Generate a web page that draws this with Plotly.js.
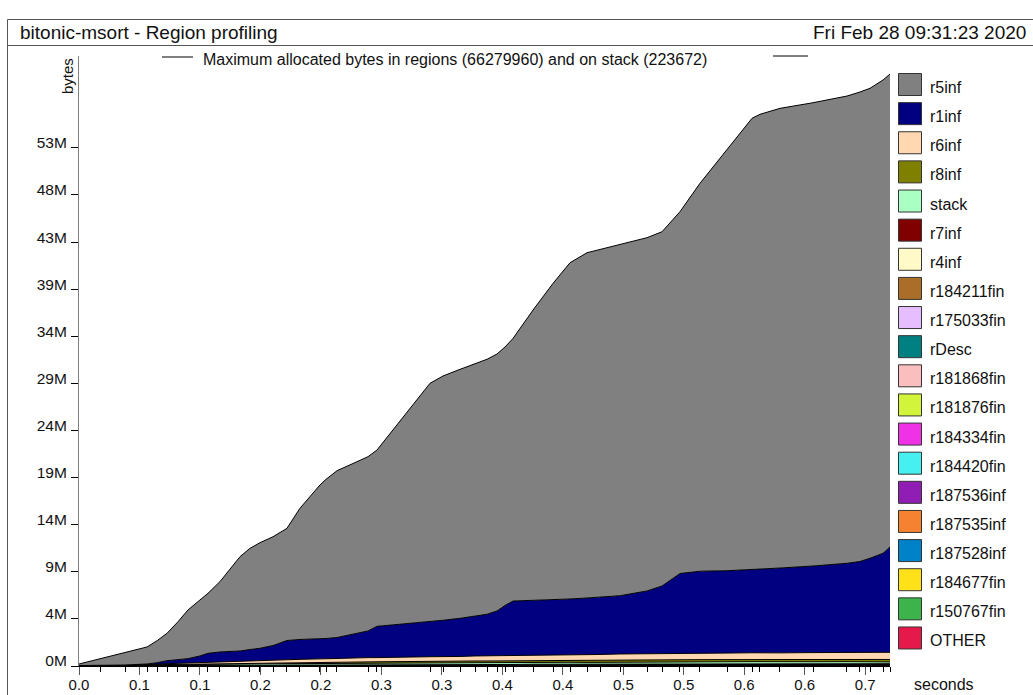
<!DOCTYPE html>
<html><head><meta charset="utf-8">
<script src="https://cdn.plot.ly/plotly-3.0.1.min.js"></script>
<style>html,body{margin:0;padding:0;background:#fff;} #chart{width:1033px;height:695px;}</style>
</head><body><div id="chart"></div>
<script>
// sample times (seconds)
const times = [0.0000,0.0181,0.0396,0.0585,0.0671,0.0757,0.0851,0.0937,0.1040,0.1109,
  0.1212,0.1384,0.1470,0.1556,0.1668,0.1788,0.1900,0.2072,0.2124,0.2218,
  0.2485,0.2562,0.3018,0.3130,0.3276,0.3405,0.3508,0.3594,0.3663,0.3732,
  0.3904,0.4076,0.4222,0.4368,0.4480,0.4652,0.4884,0.5013,0.5167,0.5339,
  0.5572,0.5787,0.5855,0.6027,0.6311,0.6603,0.6715,0.6801,0.6913,0.6973];

// values in M
const r5inf = [0.155,0.673,1.295,1.761,2.279,2.839,3.936,5.046,5.802,6.216,
  7.283,9.769,10.485,10.940,11.271,11.624,13.593,15.955,16.493,17.280,
  18.057,18.265,24.730,25.309,25.796,26.190,26.418,26.625,26.780,27.216,
  30.096,32.790,34.841,35.773,36.021,36.405,36.602,36.705,37.483,40.187,
  43.585,46.776,47.138,47.625,47.998,48.412,48.640,48.692,49.034,49.003];
const r1inf = [0.02,0.01,0.01,0.07,0.16,0.31,0.37,0.44,0.66,0.90,
  0.99,1.04,1.17,1.25,1.49,1.99,2.06,2.06,2.11,2.17,
  2.76,3.24,3.60,3.78,3.95,4.11,4.31,4.64,5.19,5.64,
  5.65,5.69,5.78,5.88,5.93,6.04,6.52,7.01,8.27,8.50,
  8.53,8.60,8.66,8.79,8.97,9.23,9.42,9.74,10.26,10.91];
const r6inf = [0,0,0.01,0.03,0.05,0.08,0.10,0.12,0.15,0.17,
  0.20,0.23,0.25,0.27,0.29,0.31,0.33,0.36,0.37,0.38,
  0.42,0.43,0.48,0.49,0.50,0.52,0.53,0.53,0.54,0.55,
  0.56,0.57,0.58,0.59,0.60,0.61,0.62,0.63,0.66,0.66,
  0.67,0.68,0.68,0.69,0.70,0.71,0.72,0.72,0.73,0.74];
const r8inf = [0,0,0,0.01,0.02,0.03,0.04,0.05,0.06,0.06,
  0.07,0.08,0.08,0.09,0.10,0.10,0.11,0.12,0.12,0.13,
  0.14,0.14,0.16,0.16,0.17,0.17,0.18,0.18,0.18,0.19,
  0.19,0.20,0.20,0.20,0.21,0.21,0.22,0.22,0.23,0.23,
  0.23,0.24,0.24,0.24,0.25,0.25,0.25,0.26,0.26,0.26];
const stack = [0.02,0.02,0.04,0.06,0.07,0.08,0.09,0.10,0.11,0.12,
  0.12,0.13,0.12,0.14,0.15,0.14,0.15,0.16,0.15,0.16,
  0.17,0.16,0.18,0.17,0.18,0.19,0.18,0.19,0.20,0.19,
  0.20,0.21,0.20,0.19,0.20,0.21,0.20,0.21,0.20,0.21,
  0.20,0.21,0.20,0.19,0.20,0.21,0.20,0.20,0.19,0.18];
const r7inf = [0,0.01,0.01,0.01,0.01,0.02,0.02,0.02,0.02,0.02,
  0.02,0.02,0.03,0.03,0.03,0.03,0.03,0.03,0.03,0.03,
  0.04,0.04,0.04,0.04,0.04,0.04,0.04,0.04,0.04,0.04,
  0.05,0.05,0.05,0.05,0.05,0.05,0.05,0.05,0.05,0.05,
  0.06,0.06,0.06,0.06,0.06,0.06,0.06,0.06,0.06,0.06];
const r4inf = [0,0.01,0.01,0.01,0.01,0.01,0.01,0.01,0.02,0.02,
  0.02,0.02,0.02,0.02,0.02,0.02,0.02,0.02,0.02,0.02,
  0.03,0.03,0.03,0.03,0.03,0.03,0.03,0.03,0.03,0.03,
  0.03,0.03,0.03,0.03,0.03,0.04,0.04,0.04,0.04,0.04,
  0.04,0.04,0.04,0.04,0.04,0.04,0.04,0.04,0.04,0.04];
const r184211fin = [0,0,0,0,0,0,0,0,0,0,
  0.01,0.01,0.01,0.01,0.01,0.01,0.01,0.01,0.01,0.01,
  0.01,0.01,0.01,0.01,0.01,0.02,0.02,0.02,0.02,0.02,
  0.02,0.02,0.02,0.02,0.02,0.02,0.02,0.02,0.02,0.02,
  0.03,0.03,0.03,0.03,0.03,0.03,0.03,0.03,0.03,0.03];
const r175033fin = [0,0,0,0,0,0,0,0,0,0,
  0,0,0,0,0,0.01,0.01,0.01,0.01,0.01,
  0.01,0.01,0.01,0.01,0.01,0.01,0.01,0.01,0.01,0.01,
  0.01,0.01,0.01,0.01,0.01,0.02,0.02,0.02,0.02,0.02,
  0.02,0.02,0.02,0.02,0.02,0.02,0.02,0.02,0.02,0.02];
const rDesc = [0,0.01,0.01,0.01,0.01,0.01,0.01,0.01,0.01,0.01,
  0.01,0.01,0.01,0.01,0.01,0.01,0.01,0.01,0.01,0.01,
  0.01,0.01,0.01,0.01,0.01,0.01,0.01,0.01,0.01,0.01,
  0.01,0.01,0.01,0.01,0.01,0.01,0.01,0.01,0.01,0.01,
  0.01,0.01,0.01,0.01,0.01,0.01,0.01,0.01,0.01,0.01];
const r181868fin = [0,0,0,0,0,0,0,0,0,0,
  0,0,0,0,0,0,0,0,0,0,
  0.01,0.01,0.01,0.01,0.01,0.01,0.01,0.01,0.01,0.01,
  0.01,0.01,0.01,0.01,0.01,0.01,0.01,0.01,0.01,0.01,
  0.01,0.01,0.01,0.01,0.01,0.01,0.01,0.01,0.01,0.01];
const r181876fin = [0,0,0,0,0,0,0,0,0,0,
  0,0,0,0,0,0,0,0,0,0,
  0,0,0,0,0,0.01,0.01,0.01,0.01,0.01,
  0.01,0.01,0.01,0.01,0.01,0.01,0.01,0.01,0.01,0.01,
  0.01,0.01,0.01,0.01,0.01,0.01,0.01,0.01,0.01,0.01];
const r184334fin = [0,0,0,0,0,0,0,0,0,0,
  0,0,0,0,0,0,0,0,0,0,
  0,0,0,0,0,0,0,0,0,0,
  0.01,0.01,0.01,0.01,0.01,0.01,0.01,0.01,0.01,0.01,
  0.01,0.01,0.01,0.01,0.01,0.01,0.01,0.01,0.01,0.01];
const r184420fin = [0,0,0,0,0,0,0,0,0,0,
  0,0,0,0,0,0,0,0,0,0,
  0,0,0,0,0,0,0,0,0,0,
  0.005,0.005,0.005,0.005,0.005,0.005,0.005,0.005,0.005,0.005,
  0.005,0.005,0.005,0.005,0.005,0.005,0.005,0.005,0.005,0.005];
const r187536inf = [0,0,0,0,0,0,0,0,0,0,
  0,0,0,0,0,0,0,0,0,0,
  0,0,0,0,0,0,0,0,0,0,
  0,0,0,0,0,0.005,0.005,0.005,0.005,0.005,
  0.005,0.005,0.005,0.005,0.005,0.005,0.005,0.005,0.005,0.005];
const r187535inf = [0,0,0,0,0,0,0,0,0,0,
  0,0,0,0,0,0,0,0,0,0,
  0,0,0,0,0,0,0,0,0,0,
  0,0,0,0,0,0.005,0.005,0.005,0.005,0.005,
  0.005,0.005,0.005,0.005,0.005,0.005,0.005,0.005,0.005,0.005];
const r187528inf = [0,0,0,0,0,0,0,0,0,0,
  0,0,0,0,0,0,0,0,0,0,
  0,0,0,0,0,0,0,0,0,0,
  0,0,0,0,0,0,0,0.005,0.005,0.005,
  0.005,0.005,0.005,0.005,0.005,0.005,0.005,0.005,0.005,0.005];
const r184677fin = [0,0,0,0,0,0,0,0,0,0.005,
  0.005,0.005,0.005,0.005,0.005,0.005,0.005,0.005,0.005,0.005,
  0.005,0.005,0.005,0.005,0.005,0.005,0.005,0.005,0.005,0.005,
  0.005,0.005,0.005,0.005,0.005,0.005,0.005,0.005,0.005,0.005,
  0.005,0.005,0.005,0.005,0.005,0.005,0.005,0.005,0.005,0.005];
const r150767fin = [0,0,0,0,0,0,0,0,0,0,
  0,0,0,0,0.005,0.005,0.005,0.005,0.005,0.005,
  0.005,0.005,0.005,0.005,0.005,0.005,0.005,0.005,0.005,0.005,
  0.005,0.005,0.005,0.005,0.005,0.005,0.005,0.005,0.005,0.005,
  0.005,0.005,0.005,0.005,0.005,0.005,0.005,0.005,0.005,0.005];
const OTHER = [0.01,0.01,0.01,0.01,0.01,0.01,0.01,0.01,0.01,0.01,
  0.01,0.01,0.01,0.01,0.01,0.01,0.01,0.01,0.01,0.02,
  0.02,0.02,0.02,0.02,0.02,0.02,0.02,0.02,0.02,0.02,
  0.02,0.02,0.02,0.02,0.02,0.02,0.02,0.02,0.02,0.02,
  0.02,0.02,0.02,0.02,0.02,0.02,0.02,0.02,0.02,0.02];

// legend order, top to bottom
const seriesNames = ['r5inf','r1inf','r6inf','r8inf','stack','r7inf','r4inf','r184211fin','r175033fin','rDesc',
  'r181868fin','r181876fin','r184334fin','r184420fin','r187536inf','r187535inf','r187528inf','r184677fin','r150767fin','OTHER'];
const seriesValues = [r5inf,r1inf,r6inf,r8inf,stack,r7inf,r4inf,r184211fin,r175033fin,rDesc,
  r181868fin,r181876fin,r184334fin,r184420fin,r187536inf,r187535inf,r187528inf,r184677fin,r150767fin,OTHER];
const seriesColors = ['#808080','#000080','#FFD8B1','#808000','#AAFFC3','#800000','#FFFAC8','#AA6E28','#E6BEFF','#008080',
  '#FABEBE','#D2F53C','#F032E6','#46F0F0','#911EB4','#F58231','#0082C8','#FFE119','#3CB44B','#E6194B'];

const yTickVals = [0,4.88,9.76,14.64,19.52,24.40,29.28,34.16,39.04,43.92,48.80,53.68];
const yTickText = ['0M','4M','9M','14M','19M','24M','29M','34M','39M','43M','48M','53M'];
const xTickVals = [0,0.052,0.104,0.156,0.208,0.260,0.312,0.364,0.416,0.468,0.520,0.572,0.624,0.676];
const xTickText = ['0.0','0.1','0.1','0.2','0.2','0.3','0.3','0.4','0.4','0.5','0.5','0.6','0.6','0.7'];

const titleText = 'bitonic-msort - Region profiling';
const dateText = 'Fri Feb 28 09:31:23 2020';
const subText = 'Maximum allocated bytes in regions (66279960) and on stack (223672)';

// layout geometry (pixels)
const L = 79, T = 56, W = 811, H = 610;
const px = x => (x - L) / W;
const py = y => (T + H - y) / H;
const FONT = 'Liberation Sans, Arial, sans-serif';

const traces = [];
for (let i = seriesNames.length - 1; i >= 0; i--) {
  traces.push({
    x: times, y: seriesValues[i], name: seriesNames[i], type: 'scatter', mode: 'lines',
    stackgroup: 'one', line: {color: '#000', width: 1, shape: 'linear'},
    fillcolor: seriesColors[i], showlegend: false
  });
}

const shapes = [];
const annotations = [];
const line = (x0, y0, x1, y1, c, w) => shapes.push({type: 'line', xref: 'paper', yref: 'paper',
  x0: px(x0), y0: py(y0), x1: px(x1), y1: py(y1), line: {color: c, width: w}});

// frame + title box
shapes.push({type: 'rect', xref: 'paper', yref: 'paper', x0: px(7.5), y0: py(710), x1: px(1045), y1: py(19.5),
  line: {color: '#555', width: 1}, fillcolor: 'rgba(0,0,0,0)'});
line(7.5, 45.5, 1045, 45.5, '#555', 1);
line(162, 57, 193, 57, '#000', 1);
line(773, 56, 808, 56, '#000', 1);

annotations.push({xref: 'paper', yref: 'paper', x: px(18), y: py(32), xanchor: 'left', yanchor: 'middle',
  text: titleText, showarrow: false, font: {family: FONT, size: 19, color: '#111'}});
annotations.push({xref: 'paper', yref: 'paper', x: px(1028), y: py(32), xanchor: 'right', yanchor: 'middle',
  text: dateText, showarrow: false, font: {family: FONT, size: 19, color: '#111'}});
annotations.push({xref: 'paper', yref: 'paper', x: px(455), y: py(59), xanchor: 'center', yanchor: 'middle',
  text: subText, showarrow: false, font: {family: FONT, size: 16, color: '#111'}});
annotations.push({xref: 'paper', yref: 'paper', x: px(67), y: py(76), xanchor: 'center', yanchor: 'middle',
  text: 'bytes', textangle: -90, showarrow: false, font: {family: FONT, size: 15, color: '#111'}});
annotations.push({xref: 'paper', yref: 'paper', x: px(944), y: py(684), xanchor: 'center', yanchor: 'middle',
  text: 'seconds', showarrow: false, font: {family: FONT, size: 16, color: '#111'}});

// legend
for (let i = 0; i < seriesNames.length; i++) {
  const top = 73.5 + i * 29.13;
  shapes.push({type: 'rect', xref: 'paper', yref: 'paper', x0: px(898.5), x1: px(921.5), y0: py(top + 22), y1: py(top),
    fillcolor: seriesColors[i], line: {color: '#333', width: 1}});
  annotations.push({xref: 'paper', yref: 'paper', x: px(928), y: py(top + 14), xanchor: 'left', yanchor: 'middle',
    text: seriesNames[i], showarrow: false, font: {family: FONT, size: 16, color: '#111'}});
}

const layout = {
  width: 1033, height: 695,
  margin: {l: L, r: 1033 - L - W, t: T, b: 695 - T - H, pad: 0},
  paper_bgcolor: '#fff', plot_bgcolor: '#fff',
  showlegend: false,
  font: {family: FONT, size: 15, color: '#111'},
  xaxis: {
    range: [0, times[times.length - 1]], showgrid: false, zeroline: false,
    showline: true, linecolor: '#000', linewidth: 1,
    tickmode: 'array', tickvals: xTickVals, ticktext: xTickText,
    ticks: 'outside', ticklen: 8, tickcolor: '#555', tickwidth: 1,
    ticklabelstandoff: -3,
    tickfont: {family: FONT, size: 15, color: '#111'},
    minor: {tickmode: 'array', tickvals: times, ticks: 'outside', ticklen: 5, tickcolor: '#000', tickwidth: 1, showgrid: false}
  },
  yaxis: {
    range: [0, 63.2], showgrid: false, zeroline: false,
    showline: true, linecolor: '#808080', linewidth: 1,
    tickmode: 'array', tickvals: yTickVals, ticktext: yTickText,
    ticks: 'outside', ticklen: 7, tickcolor: '#000', tickwidth: 1,
    ticklabelshift: -5, ticklabelstandoff: 1,
    tickfont: {family: FONT, size: 15.5, color: '#111'}
  },
  shapes: shapes,
  annotations: annotations
};

Plotly.newPlot('chart', traces, layout, {displayModeBar: false, staticPlot: true});
</script>
</body></html>
